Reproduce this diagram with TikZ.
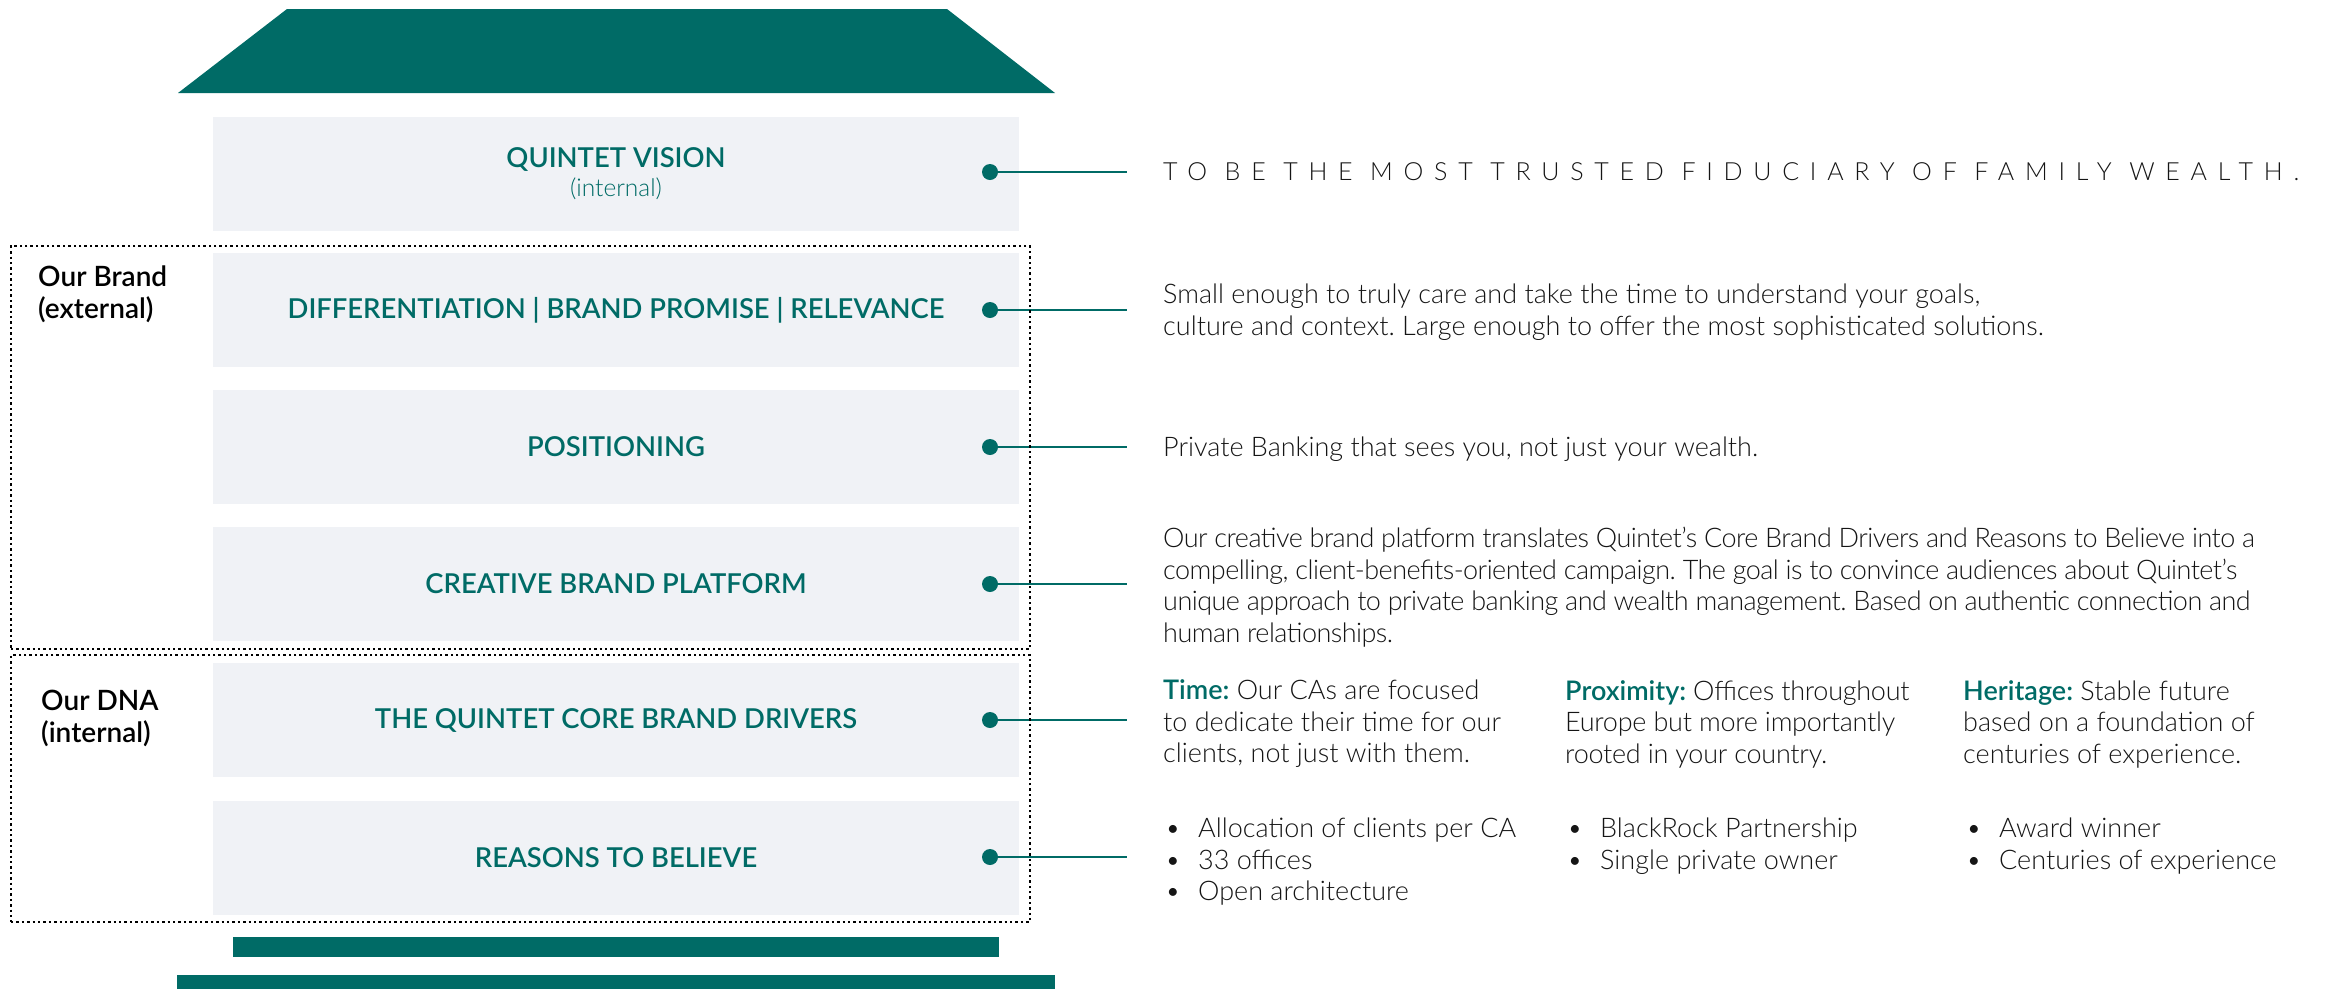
\documentclass[tikz,border=0pt]{standalone}
\usepackage{fontspec}
\setmainfont{Lato}
\newfontfamily\lightf{Lato Light}
\newfontfamily\semif{Lato Semibold}
\definecolor{tealc}{HTML}{006B66}
\definecolor{boxg}{HTML}{F0F2F6}
\definecolor{txtc}{HTML}{151515}
\begin{document}
\frenchspacing
\begin{tikzpicture}[x=1pt,y=-1pt,
  layer/.style={fill=boxg, draw=none, minimum width=806pt, minimum height=114pt, inner sep=0pt,
    text=tealc, font=\semif\fontsize{27.4}{31}\selectfont, align=center},
  dotc/.style={circle, fill=tealc, draw=none, minimum size=16pt, inner sep=0pt},
  conn/.style={draw=tealc, line width=2.5pt},
  dotbox/.style={draw=black, line width=2.3pt, dash pattern=on 2.4pt off 3pt, minimum width=1019pt, inner sep=0pt},
  side/.style={anchor=west, align=left, inner sep=0pt, text=black, font=\semif\fontsize{28}{32}\selectfont},
  desc/.style={anchor=west, align=left, inner sep=0pt, text=txtc, font=\lightf\fontsize{27}{31.5}\selectfont},
  bar/.style={fill=tealc, draw=none, inner sep=0pt}
]
\useasboundingbox (0,0) rectangle (2331,989);
% roof
\fill[tealc] (287,9) -- (947,9) -- (1055,93) -- (178,93) -- cycle;
% layers
\node[layer] (vis) at (616,174) {QUINTET VISION\\[-2pt]{\lightf\fontsize{24.5}{26}\selectfont(internal)}};
\node[layer] (dif) at (616,310) {DIFFERENTIATION | BRAND PROMISE | RELEVANCE};
\node[layer] (pos) at (616,447) {POSITIONING};
\node[layer] (cre) at (616,584) {CREATIVE BRAND PLATFORM};
\node[layer] (core) at (616,720) {THE QUINTET CORE BRAND DRIVERS};
\node[layer] (rtb) at (616,858) {REASONS TO BELIEVE};
% base bars
\node[bar, minimum width=766pt, minimum height=20pt] (bar1) at (616,947) {};
\node[bar, minimum width=878pt, minimum height=14pt] (bar2) at (616,982) {};
% dots and connectors
\foreach \n/\y in {1/172,2/310,3/447,4/584,5/720,6/857}{
  \node[dotc] (d\n) at (990,\y) {};
  \coordinate (e\n) at (1127,\y);
  \draw[conn] (d\n.center) -- (e\n);
}
% dotted groups
\node[dotbox, minimum height=403pt] (brand) at (520.5,447.5) {};
\node[dotbox, minimum height=267pt] (dna) at (520.5,788.5) {};
\node[side] (brandlbl) at (38,294) {Our Brand\\(external)};
\node[side] (dnalbl) at (41,718) {Our DNA\\(internal)};
% descriptions
\node[desc, font=\lightf\fontsize{25}{30}\selectfont\addfontfeature{LetterSpace=43}] (tag) at (1163,172)
  {TO BE THE MOST TRUSTED FIDUCIARY OF FAMILY WEALTH.};
\node[desc] (difd) at (1163,312) {Small enough to truly care and take the time to understand your goals,\\culture and context. Large enough to offer the most sophisticated solutions.};
\node[desc] (posd) at (1163,449) {Private Banking that sees you, not just your wealth.};
\node[desc, font=\lightf\fontsize{27}{31.5}\selectfont\addfontfeature{LetterSpace=-2}] (cred) at (1163,587) {Our creative brand platform translates Quintet’s Core Brand Drivers and Reasons to Believe into a\\compelling, client-benefits-oriented campaign. The goal is to convince audiences about Quintet’s\\unique approach to private banking and wealth management. Based on authentic connection and\\human relationships.};
\node[desc] (time) at (1163,724) {{\semif\color{tealc}Time:} Our CAs are focused\\to dedicate their time for our\\clients, not just with them.};
\node[desc, font=\lightf\fontsize{27}{31.5}\selectfont\addfontfeature{LetterSpace=-1}] (prox) at (1565,724) {{\semif\color{tealc}Proximity:} Offices throughout\\Europe but more importantly\\rooted in your country.};
\node[desc] (her) at (1963,724) {{\semif\color{tealc}Heritage:} Stable future\\based on a foundation of\\centuries of experience.};
\node[desc] (b1) at (1165,862) {\makebox[33pt][l]{•}Allocation of clients per CA\\\makebox[33pt][l]{•}33 offices\\\makebox[33pt][l]{•}Open architecture};
\node[desc] (b2) at (1567,846) {\makebox[33pt][l]{•}BlackRock Partnership\\\makebox[33pt][l]{•}Single private owner};
\node[desc] (b3) at (1966,846) {\makebox[33pt][l]{•}Award winner\\\makebox[33pt][l]{•}Centuries of experience};
\end{tikzpicture}
\end{document}
